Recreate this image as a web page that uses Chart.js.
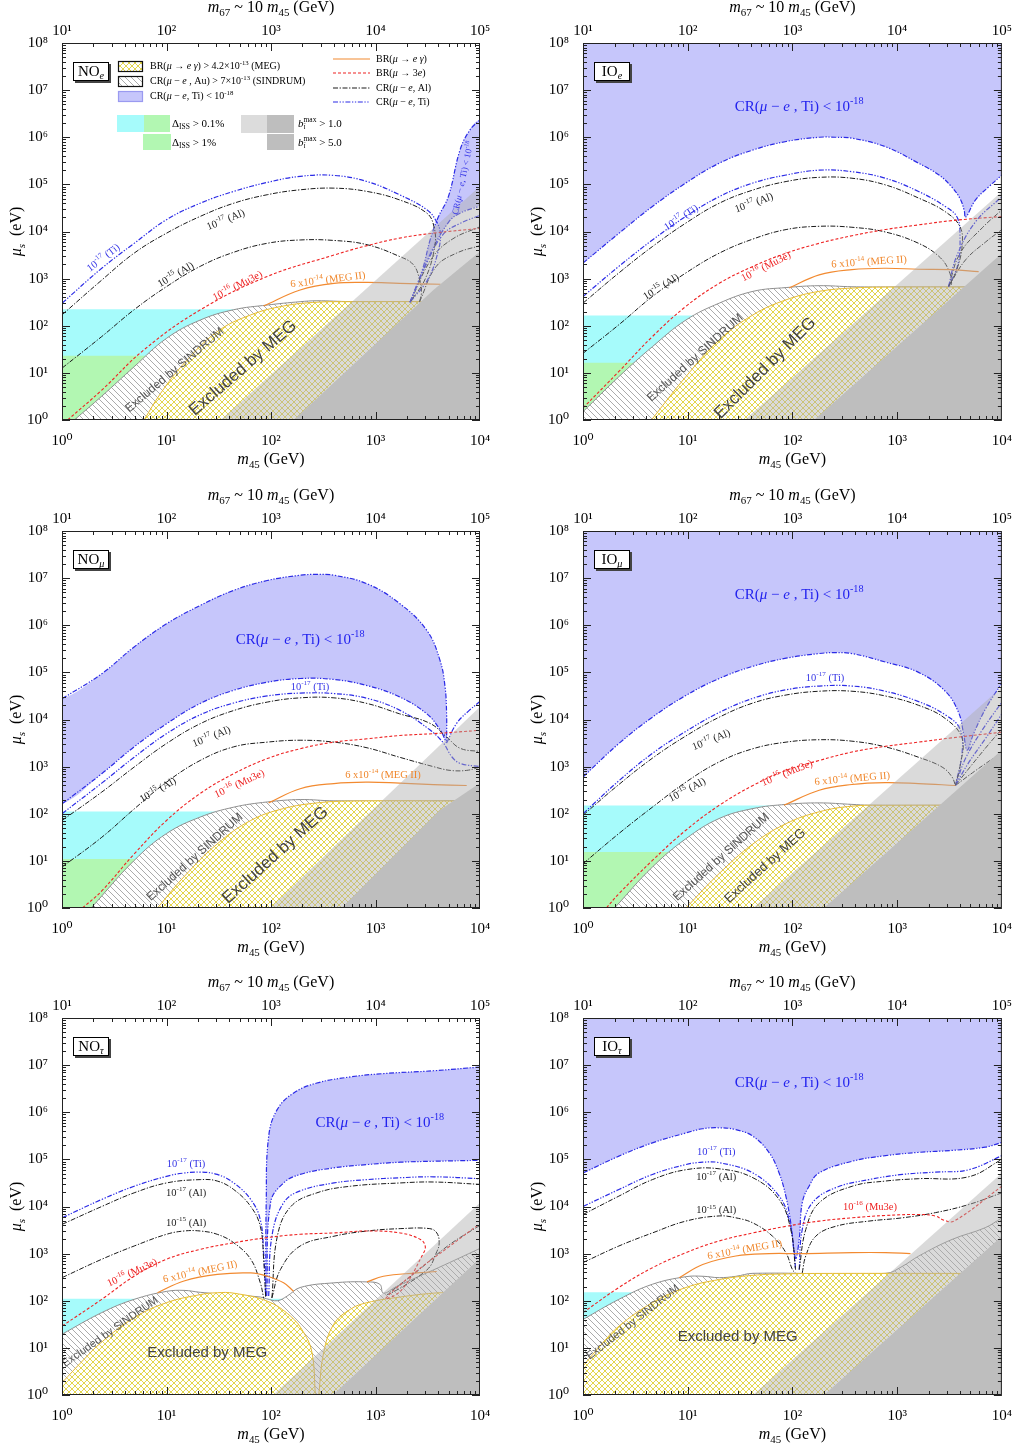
<!DOCTYPE html>
<html><head><meta charset="utf-8">
<script src="https://cdn.jsdelivr.net/npm/chart.js@4.4.1/dist/chart.umd.min.js"></script>
<style>
html,body{margin:0;padding:0;background:#fff;}
#wrap{position:relative;width:1016px;height:1450px;overflow:hidden;}
canvas{position:absolute;}
</style></head><body><div id="wrap">
<canvas id="c0" width="500" height="475" style="left:0;top:0;width:500px;height:475px"></canvas>
<canvas id="c1" width="495" height="475" style="left:521px;top:0;width:495px;height:475px"></canvas>
<canvas id="c2" width="500" height="475" style="left:0;top:488px;width:500px;height:475px"></canvas>
<canvas id="c3" width="495" height="475" style="left:521px;top:488px;width:495px;height:475px"></canvas>
<canvas id="c4" width="500" height="475" style="left:0;top:975px;width:500px;height:475px"></canvas>
<canvas id="c5" width="495" height="475" style="left:521px;top:975px;width:495px;height:475px"></canvas>
</div>
<script>
// ---------- tick values ----------
const xTicks=[1,10,100,1000,10000];
const x2Ticks=[10,100,1000,10000,100000];
const yTicks=[1,10,100,1e3,1e4,1e5,1e6,1e7,1e8];

// ---------- NO e ----------
const NOe_Ti17=[[1,300],[2.4,1660],[4.9,5600],[10,17800],[21,39800],[44,71000],[92,110000],[190,148000],[400,155000],[830,115000],[1700,60000],[3100,29000],[3850,16000],[4170,9100],[4000,4000],[3200,1000],[2140,316]];
const NOe_Al17=[[1,170],[2.4,930],[4.9,3470],[10,9200],[21,20900],[44,39800],[92,60300],[190,76700],[400,83200],[830,70800],[1700,46800],[3100,24500],[3630,12600],[3700,5000],[3000,1000],[2140,316]];
const NOe_Al15=[[1,12.6],[2.4,59],[4.9,219],[10,676],[21,1820],[44,3630],[92,5620],[190,6610],[400,6460],[830,5250],[1700,2950],[2290,2000],[2630,1000],[2750,500],[2630,316]];
const NOe_Mu3e=[[1.13,1],[2.4,4.3],[6.1,31],[21,217],[92,1110],[400,3160],[830,5010],[1700,7240],[3600,9230],[10000,11700]];
const NOe_MEGII=[[85,263],[190,575],[400,794],[830,832],[1700,794],[4200,759]];
const NOe_MEG=[[6.1,1],[8.8,3.7],[14.7,15.8],[30.6,75],[64,170],[132,263],[276,316],[574,324],[10000,324]];
const NOe_SINDRUM=[[1.31,1],[2.4,3.2],[4.9,13.5],[10,54],[21,132],[44,219],[92,275],[190,324],[275,339],[575,326],[10000,326]];
const NOe_Ti18_up=[[2140,316],[2820,1580],[3330,6610],[3980,20000],[4980,54800],[6440,537000],[8020,1430000],[10000,2340000]];
const NOe_Ti18_lo=[[2140,316],[3310,3160],[5010,15800],[6440,24500],[10000,34700]];
const NOe_Ti17_r=[[2140,316],[3200,2500],[4500,9000],[6500,15000],[10000,22000]];
const NOe_Al17_r=[[2140,316],[3500,2800],[5500,7000],[10000,12600]];
const NOe_Al15_r=[[2630,316],[3800,1800],[6000,3500],[10000,5000]];
const NOe_bmax1=[[33,1],[10000,91000]];
const NOe_bmax5=[[165,1],[3580,575],[10000,3760]];
const NOe_ISS=[224,23];

// ---------- IO e ----------
const IOe_Ti18=[[1,2140],[2.2,9120],[4.6,33900],[9.6,107000],[20,282000],[42,537000],[87,813000],[180,1000000],[257,1000000],[370,955000],[770,631000],[1600,282000],[2510,158000],[3310,89000],[3980,50000],[4370,28000],[4500,20000],[5600,46800],[7500,89100],[10000,158000]];
const IOe_Ti17=[[1,417],[2.2,1820],[4.6,6610],[9.6,20900],[20,55000],[42,107000],[87,158000],[180,200000],[370,186000],[770,135000],[1600,70800],[2880,33900],[3740,20000],[3980,7940],[3800,2000],[3090,676]];
const IOe_Al17=[[1,302],[2.2,1320],[4.6,4790],[9.6,15100],[20,39800],[42,75900],[87,115000],[180,141000],[370,135000],[770,97700],[1600,51300],[2880,26300],[3980,12600],[4170,5010],[3720,1580],[3090,676]];
const IOe_Al15=[[1,26],[2.2,105],[4.6,417],[9.6,1320],[20,3470],[42,6920],[87,11000],[180,12900],[370,12300],[770,9770],[1600,5620],[2510,2950],[3090,1550],[3310,794],[3160,676]];
const IOe_Mu3e=[[1,1.8],[2.2,10.7],[4.6,59],[9.6,257],[20,794],[42,1820],[87,3470],[180,5620],[370,8130],[770,11000],[1600,13800],[3300,17000],[10000,20900]];
const IOe_MEGII=[[93,631],[180,1200],[370,1550],[770,1660],[1600,1580],[3300,1550],[6000,1410]];
const IOe_MEG=[[4.5,1],[9.6,8.3],[20,50],[42,170],[87,355],[180,537],[370,631],[770,661],[10000,661]];
const IOe_SINDRUM=[[1,1.5],[2.2,8.3],[4.6,36],[9.6,132],[20,302],[42,537],[87,646],[180,708],[370,672],[770,665],[10000,665]];
const IOe_Ti17_r=[[3090,676],[3700,3000],[5600,16000],[10000,55000]];
const IOe_Al17_r=[[3090,676],[4000,3500],[6500,12000],[10000,28800]];
const IOe_Al15_r=[[3090,676],[4500,2500],[7000,6000],[10000,11000]];
const IOe_bmax1=[[35,1],[10000,70800]];
const IOe_bmax5=[[161,1],[10000,3470]];
const IOe_ISS=[165,16.5];

// ---------- NO mu ----------
const NOmu_Ti18_up=[[1,27500],[2.4,93300],[4.9,347000],[10,1070000],[21,2630000],[44,5500000],[92,8900000],[190,11500000],[275,12000000],[400,11500000],[830,7600000],[1700,2900000],[3100,776000],[4150,178000],[4630,49000],[4790,13200],[4790,3160]];
const NOmu_Ti18_lo=[[1,162],[2.4,708],[4.9,2630],[10,8130],[21,21900],[44,41700],[92,61700],[190,74100],[400,70800],[830,52500],[1700,30200],[3100,13200],[4150,6030],[4790,3160]];
const NOmu_Ti18_r=[[4790,3160],[5980,8300],[7940,15800],[10000,24000]];
const NOmu_Ti17=[[1,100],[2.4,447],[4.9,1580],[10,5010],[21,12600],[44,22400],[92,31600],[190,36300],[400,35500],[830,28200],[1700,15800],[3310,6030],[4470,3160],[5370,1620],[6460,1170],[10000,1000]];
const NOmu_Al17=[[1,72],[2.4,288],[4.9,977],[10,3090],[21,8130],[44,15500],[92,23400],[190,28800],[400,28800],[830,21900],[1700,13200],[3310,8320],[4790,4270],[6460,2450],[10000,2090]];
const NOmu_Al15=[[1,7.4],[2.4,31.6],[4.9,126],[10,468],[21,1350],[44,2630],[92,3310],[190,3630],[400,3310],[830,2510],[1700,1580],[3580,1000],[5180,832],[7460,832],[10000,977]];
const NOmu_Mu3e=[[1.57,1],[2.4,2.3],[4.9,14],[10,72],[21,269],[44,708],[92,1480],[190,2400],[400,3310],[830,3890],[1700,4570],[3600,5010],[10000,5890]];
const NOmu_MEGII=[[95,170],[190,339],[400,437],[830,468],[1700,447],[3580,417],[7460,398]];
const NOmu_MEG=[[8.2,1],[14.7,4.6],[30.6,22.9],[64,72],[132,129],[276,170],[575,186],[10000,186]];
const NOmu_SINDRUM=[[1.9,1],[4.9,10.2],[10,38],[21,85],[44,138],[92,178],[190,200],[400,188],[10000,188]];
const NOmu_bmax1=[[98,1],[10000,18600]];
const NOmu_bmax5=[[474,1],[4140,120],[10000,447]];
const NOmu_ISS=[112,11];

// ---------- IO mu ----------
const IOmu_Ti18=[[1,603],[2.2,3090],[4.6,11200],[9.6,32400],[20,74100],[42,135000],[87,200000],[180,251000],[257,263000],[370,251000],[770,166000],[1600,100000],[2880,39800],[3860,14100],[4310,5010],[4660,2240],[5370,5010],[7080,17800],[10000,58900]];
const IOmu_Ti17=[[1,100],[2.2,501],[4.6,1910],[9.6,5620],[20,14100],[42,28200],[87,42700],[180,51300],[370,51300],[770,39800],[1600,24000],[2880,12600],[3980,6310],[4170,2000],[3600,398]];
const IOmu_Al17=[[1,93],[2.2,417],[4.6,1510],[9.6,4470],[20,11200],[42,22400],[87,33100],[180,39800],[370,39800],[770,31600],[1600,20000],[2880,10500],[4170,3980],[3980,1000],[3600,398]];
const IOmu_Al15=[[1,8.7],[2.2,38],[4.6,138],[9.6,468],[20,1260],[42,2400],[87,3310],[180,3720],[370,3470],[770,2630],[1600,1580],[2690,977],[3340,603],[3600,398]];
const IOmu_Mu3e=[[1.67,1],[2.2,2],[4.6,10.2],[9.6,44.7],[20,151],[42,398],[87,832],[180,1350],[370,2040],[770,2690],[1600,3310],[3300,4070],[10000,5370]];
const IOmu_MEGII=[[83,151],[180,316],[370,417],[770,457],[1600,437],[3600,398]];
const IOmu_MEG=[[9.6,1],[20,5.4],[42,22.9],[87,61.7],[180,110],[370,145],[770,151],[10000,151]];
const IOmu_SINDRUM=[[2,1],[4.6,7.4],[9.6,29.5],[20,79.4],[42,129],[87,158],[180,170],[370,158],[540,152],[10000,152]];
const IOmu_Ti17_r=[[3600,398],[4500,1500],[6500,6000],[10000,23400]];
const IOmu_Ti17b_r=[[3600,398],[4800,1200],[7000,4000],[10000,13200]];
const IOmu_Al17_r=[[3600,398],[5000,1000],[7500,3000],[10000,6300]];
const IOmu_Al15_r=[[3600,398],[5500,800],[10000,2000]];
const IOmu_bmax1=[[42,1],[10000,49000]];
const IOmu_bmax5=[[200,1],[10000,2240]];
const IOmu_ISS=[150,15.4];

// ---------- NO tau ----------
const NOtau_Ti18_up=[[89,126],[90,12000],[95,309000],[115,1150000],[165,2570000],[275,4170000],[575,5620000],[1190,6610000],[3580,7590000],[10000,9120000]];
const NOtau_Ti18_lo=[[91,126],[99,12000],[132,31600],[190,47900],[400,66100],[830,77600],[1720,87100],[3580,91200],[10000,95500]];
const NOtau_Ti17_l=[[1,5750],[2.4,14100],[4.9,26900],[10,43700],[14.7,51300],[21,53700],[30.6,47900],[44,31600],[64,14100],[79,5250],[85,1050],[89,126]];
const NOtau_Ti17_r=[[95,126],[102,2340],[132,12000],[190,21400],[400,31600],[830,37200],[1700,40700],[3600,42700],[10000,38900]];
const NOtau_Al17_l=[[1,4170],[2.4,10000],[4.9,19500],[10,31600],[21,37200],[30.6,34700],[44,22900],[64,10000],[79,3800],[85,760],[89,115]];
const NOtau_Al17_r=[[102,115],[115,2340],[155,10000],[275,19500],[575,26900],[1720,31600],[3580,33100],[10000,29500]];
const NOtau_Al15_l=[[1,309],[2.4,759],[4.9,1450],[10,2570],[14.7,3020],[21,3020],[30.6,2570],[44,1700],[64,759],[79,240],[85,115]];
const NOtau_Al15_r=[[102,115],[123,457],[190,1450],[400,2340],[830,3020],[1720,3390],[3310,3390],[3860,2750],[4070,1700],[3860,1100],[3090,447],[1300,135],[2500,420],[5000,1500],[10000,3980]];
const NOtau_Mu3e=[[1,29],[2.4,107],[4.9,331],[10,759],[21,1230],[44,1700],[92,2190],[190,2570],[400,2750],[830,3020],[1720,2750],[2690,2000],[2990,1450],[2860,1000],[1780,170],[1250,112],[2510,437],[5010,1380],[10000,4370]];
const NOtau_MEGII_a=[[8.2,148],[14.7,263],[30.6,363],[64,389],[92,331],[132,240],[165,158]];
const NOtau_MEGII_b=[[830,251],[1190,331],[2480,389],[3850,417]];
const NOtau_MEG_a=[[1,1.82],[1.63,5.75],[2.36,12.9],[4.9,43.7],[10,91],[21,135],[30.6,148],[44,145],[92,98],[154,47],[206,21],[247,7.9],[266,1]];
const NOtau_MEG_b=[[286,1],[319,7.9],[398,31.6],[575,66],[828,91],[1720,120],[3580,145],[5180,148],[10000,148]];
const NOtau_SINDRUM=[[1,19.5],[2.4,56],[4.9,107],[10,158],[14.7,166],[21,151],[44,132],[79,120],[91,110],[115,100],[143,126],[190,191],[400,240],[830,251],[1100,224],[1190,145],[1580,200],[3980,501],[10000,1290]];
const NOtau_bmax1=[[105,1],[10000,12000]];
const NOtau_bmax5=[[390,1],[10000,800]];
const NOtau_ISS=[110];

// ---------- IO tau ----------
const IOtau_Ti18=[[1,51300],[2.2,117000],[4.6,224000],[9.6,363000],[13.9,447000],[20,468000],[28.8,427000],[42,309000],[60,138000],[74.6,51300],[86.5,16600],[96.4,4470],[107,794],[116,2000],[124,12000],[144,26900],[179,51300],[372,91200],[774,120000],[1610,141000],[3340,155000],[6930,182000],[10000,229000]];
const IOtau_Ti17_l=[[1,10000],[2.2,22900],[4.6,47900],[9.6,77600],[13.9,87100],[20,85100],[42,51300],[74.6,16600],[93,5250],[104,1050],[107,457]];
const IOtau_Ti17_r=[[116,457],[124,3240],[155,12000],[259,25100],[537,37200],[1120,47900],[2320,53700],[4820,60300],[10000,120000]];
const IOtau_Al17_l=[[1,6760],[2.2,16600],[4.6,37200],[9.6,60300],[20,63100],[42,40700],[74.6,14100],[96.4,3240],[107,457]];
const IOtau_Al17_r=[[116,457],[134,3240],[180,12000],[372,26900],[774,34700],[1610,38900],[4820,42700],[10000,100000]];
const IOtau_Al15_l=[[1,646],[2.2,1450],[4.6,2750],[9.6,4900],[20,6310],[28.8,5750],[42,4470],[64.6,2340],[86.5,1050],[100,457],[107,389]];
const IOtau_Al15_r=[[124,389],[134,891],[167,2340],[259,3800],[537,4900],[1120,5750],[2320,7410],[4820,11000],[10000,19500]];
const IOtau_Mu3e=[[1,56],[2.2,191],[4.6,501],[9.6,1050],[20,1860],[42,2750],[87,3800],[180,4900],[370,5750],[770,6460],[1600,6760],[2300,6310],[2800,5130],[3500,4900],[10000,26900]];
const IOtau_MEGII=[[8.3,309],[13.9,589],[28.8,891],[60,1000],[124,1000],[372,1050],[774,1050],[1340,1000]];
const IOtau_MEG=[[1,4.1],[1.55,12.9],[2.2,28.8],[4.6,91],[9.6,191],[20,282],[42,347],[87,372],[180,380],[10000,380]];
const IOtau_SINDRUM=[[1,40],[2.2,107],[4.6,224],[9.6,324],[13.9,331],[20,309],[28.8,330],[42,382],[780,382],[1120,537],[1610,891],[3340,2000],[6930,3550],[10000,5750]];
const IOtau_bmax1=[[42,1],[10000,51300]];
const IOtau_bmax5=[[200,1],[10000,2340]];
const IOtau_ISS=[152];

// ---------- styles ----------
const SERIF='"Liberation Serif","DejaVu Serif","Times New Roman",serif';
const SANS='"Liberation Sans","DejaVu Sans",Arial,sans-serif';
const C={blue:'#2b2be6',fillBlue:'#c6c6fb',black:'#1a1a1a',red:'#ee2222',orange:'#f28a30',meg:'#e8bc34',sind:'#8e8e8e',cyan:'#a6fbfb',green:'#b2f7b2',lgrey:'rgba(172,172,172,0.45)',dgrey:'#bebebe'};
const DASH={ti:[5,1.6,1.3,1.6,1.3,1.6],al:[5,1.6,1.3,1.6],red:[3,2]};
const NOTE={b:{color:'#3535e6',fam:SERIF,size:10.5},k:{color:'#222',fam:SERIF,size:10.5},r:{color:'#ee2222',fam:SERIF,size:10.5},o:{color:'#f0862a',fam:SERIF,size:10.5},s:{color:'#555',fam:SANS,size:12},m:{color:'#444',fam:SANS,size:17},B:{color:'#2222ee',fam:SERIF,size:15}};
const SUP='⁰¹²³⁴⁵⁶⁷⁸⁹';
const rev=a=>a.slice().reverse();
// closes a lobe (upper branch + lower branch) through points just outside the right edge
const lobeRight=(up,lo)=>[...up,[20000,up[up.length-1][1]],[20000,lo[lo.length-1][1]],...rev(lo)];

function L(data,kind,order){
  const st={ti:[C.blue,DASH.ti,1.2],al:[C.black,DASH.al,1],red:[C.red,DASH.red,1.1],or:[C.orange,[],1.2]}[kind];
  return {data:[...data],showLine:true,pointRadius:0,borderColor:st[0],borderDash:st[1],borderWidth:st[2],fill:false,tension:0.4,order:order||40};
}
function R(data,bg,fill,border,order,tension){
  return {data:[...data],showLine:true,pointRadius:0,backgroundColor:bg,fill:fill,borderColor:border||'rgba(0,0,0,0)',borderWidth:border?1:0,tension:tension===undefined?0.4:tension,order:order};
}
function band(top,color,order){return R([[1,top],[300,top]],color,'start',null,order,0);}

// ---------- rich text ----------
function parseRich(s){
  const runs=[];let i=0,it=false,buf='';
  const push=(t,mode)=>{if(t)runs.push({t,mode,it});};
  while(i<s.length){
    const c=s[i];
    if((c==='^'||c==='_')&&s[i+1]==='{'){
      push(buf,'n');buf='';
      const j=s.indexOf('}',i);const inner=s.slice(i+2,j);
      runs.push({t:inner.replace(/\*/g,''),mode:c==='^'?'sup':'sub',it:inner.indexOf('*')>=0||it});
      i=j+1;continue;
    }
    if(c==='*'){push(buf,'n');buf='';it=!it;i++;continue;}
    buf+=c;i++;
  }
  push(buf,'n');return runs;
}
function drawRich(ctx,s,x,y,o){
  const size=o.size||15,fam=o.family||SERIF;
  const runs=parseRich(s);
  const font=r=>(r.it?'italic ':'')+(r.mode==='n'?size:size*0.68).toFixed(1)+'px '+fam;
  let w=0,prev=null;
  for(const r of runs){ctx.font=font(r);r.w=ctx.measureText(r.t).width;
    if(r.mode==='sup'&&prev&&prev.mode==='sub'){r.x=prev.x;w=prev.x+Math.max(prev.w,r.w);}else{r.x=w;w+=r.w;}
    prev=r;}
  ctx.save();ctx.translate(x,y);ctx.rotate((o.rot||0)*Math.PI/180);
  const off=o.align==='left'?0:o.align==='right'?-w:-w/2;
  ctx.fillStyle=o.color||'#000';ctx.textBaseline='middle';ctx.textAlign='left';
  for(const r of runs){ctx.font=font(r);const dy=r.mode==='sup'?-size*0.36:r.mode==='sub'?size*0.3:0;ctx.fillText(r.t,off+r.x,dy);}
  ctx.restore();
}

function makePatterns(ctx){
  const h=document.createElement('canvas');h.width=h.height=6;let g=h.getContext('2d');
  g.fillStyle='#fff';g.fillRect(0,0,6,6);g.strokeStyle='#a2a2a2';g.lineWidth=0.9;
  g.beginPath();g.moveTo(-1,-1);g.lineTo(7,7);g.moveTo(-4,2);g.lineTo(2,8);g.moveTo(2,-4);g.lineTo(8,2);g.stroke();
  const c=document.createElement('canvas');c.width=c.height=6;g=c.getContext('2d');
  g.fillStyle='#fff';g.fillRect(0,0,6,6);g.strokeStyle='#e0d03a';g.lineWidth=0.9;
  g.beginPath();g.moveTo(-1,-1);g.lineTo(7,7);g.moveTo(-1,7);g.lineTo(7,-1);g.stroke();
  return {hatch:ctx.createPattern(h,'repeat'),cross:ctx.createPattern(c,'repeat')};
}

function drawLegend(ctx,a,pat){
  const X=a.left,Y=a.top;
  const sw=(x,y,w,h,fill,stroke)=>{ctx.fillStyle=fill;ctx.fillRect(X+x,Y+y,w,h);if(stroke){ctx.strokeStyle=stroke;ctx.lineWidth=1.2;ctx.strokeRect(X+x+0.5,Y+y+0.5,w,h);}};
  sw(56,18,24,10,pat.cross,'#111');sw(56,33,24,10,pat.hatch,'#111');sw(56,48,24,10,C.fillBlue,'#9a9af0');
  const t=(s,x,y,sz)=>drawRich(ctx,s,X+x,Y+y,{size:sz||10,align:'left'});
  t('BR(*μ* → *e γ*) > 4.2×10^{-13} (MEG)',88,23.5);
  t('CR(*μ* − *e* , Au) > 7×10^{-13} (SINDRUM)',88,38.5);
  t('CR(*μ* − *e*, Ti) < 10^{-18}',88,53.5);
  const ln=(y,col,dash,w)=>{ctx.strokeStyle=col;ctx.setLineDash(dash);ctx.lineWidth=w;ctx.beginPath();ctx.moveTo(X+271,Y+y);ctx.lineTo(X+308,Y+y);ctx.stroke();ctx.setLineDash([]);};
  ln(16,C.orange,[],1.2);ln(30,C.red,DASH.red,1.1);ln(45,C.black,DASH.al,1);ln(59,C.blue,DASH.ti,1.2);
  t('BR(*μ* → *e γ*)',314,16.5);t('BR(*μ* → 3*e*)',314,30.5);t('CR(*μ* − *e*, Al)',314,45.5);t('CR(*μ* − *e*, Ti)',314,59.5);
  sw(55,72,27,17,C.cyan);sw(82,72,26,17,C.green);t('Δ_{ISS} > 0.1%',110,81,11);
  sw(81,91,28,16,C.green);t('Δ_{ISS} > 1%',110,100,11);
  sw(179,72,26,18,'#dcdcdc');sw(205,72,27,18,C.dgrey);t('*b*_{*i*}^{max} > 1.0',236,81,11);
  sw(205,91,27,16,C.dgrey);t('*b*_{*i*}^{max} > 5.0',236,100,11);
}

function makeDeco(P,pat){
  return {id:'deco',
    afterDatasetsDraw(chart){
      const ctx=chart.ctx,xs=chart.scales.x,ys=chart.scales.y,a=chart.chartArea;
      ctx.save();ctx.beginPath();ctx.rect(a.left,a.top,a.right-a.left,a.bottom-a.top);ctx.clip();
      for(const n of P.notes){const st=NOTE[n[4]];
        drawRich(ctx,n[0],xs.getPixelForValue(n[1]),ys.getPixelForValue(n[2]),{size:n[5]||st.size,family:st.fam,color:st.color,rot:n[3]});}
      ctx.restore();
      const bx=a.left+11,by=a.top+19,bw=35,bh=18;
      ctx.fillStyle='#444';ctx.fillRect(bx+2,by+2,bw+1,bh+1);
      ctx.fillStyle='#fff';ctx.fillRect(bx,by,bw,bh);ctx.strokeStyle='#000';ctx.lineWidth=1;ctx.strokeRect(bx+0.5,by+0.5,bw,bh);
      drawRich(ctx,P.tag,bx+bw/2+0.5,by+bh/2+1,{size:15});
      if(P.legend)drawLegend(ctx,a,pat);
    },
    afterDraw(chart){
      const ctx=chart.ctx,xs=chart.scales.x,ys=chart.scales.y,a=chart.chartArea;
      ctx.save();ctx.strokeStyle='#222';ctx.lineWidth=1;
      ctx.strokeRect(a.left+0.5,a.top+0.5,a.right-a.left-1,a.bottom-a.top-1);
      ctx.beginPath();
      for(let d=0;d<4;d++)for(let k=1;k<=9;k++){const px=Math.round(xs.getPixelForValue(k*Math.pow(10,d)))+0.5;const len=k===1?8:4;
        ctx.moveTo(px,a.bottom);ctx.lineTo(px,a.bottom-len);ctx.moveTo(px,a.top);ctx.lineTo(px,a.top+len);}
      for(let d=0;d<8;d++)for(let k=1;k<=9;k++){const py=Math.round(ys.getPixelForValue(k*Math.pow(10,d)))+0.5;const len=k===1?8:4;
        ctx.moveTo(a.left,py);ctx.lineTo(a.left+len,py);ctx.moveTo(a.right,py);ctx.lineTo(a.right-len,py);}
      ctx.stroke();ctx.restore();
      const cx=(a.left+a.right)/2,cy=(a.top+a.bottom)/2;
      drawRich(ctx,'*m*_{45} (GeV)',cx,a.bottom+40,{size:16});
      drawRich(ctx,'*m*_{67} ~ 10 *m*_{45} (GeV)',cx,a.top-35,{size:16});
      drawRich(ctx,'*μ*_{*s*}  (eV)',17,cy,{size:16,rot:-90});
    }
  };
}

const lab=v=>'10'+SUP[Math.round(Math.log10(v))];
function axis(pos,min,max,ticks,fit,pad){
  return {type:'logarithmic',position:pos,min,max,grid:{display:false},border:{display:false},
    afterBuildTicks:s=>{s.ticks=ticks.map(v=>({value:v}));},afterFit:fit,
    ticks:{callback:lab,font:{family:SERIF,size:15},color:'#000',padding:pad,maxRotation:0,autoSkip:false}};
}

function mkChart(P){
  const cv=document.getElementById(P.id);const ctx=cv.getContext('2d');const pat=makePatterns(ctx);
  const x2=axis('top',10,1e5,x2Ticks,s=>{s.height=43;},-5);x2.axis='x';
  new Chart(ctx,{type:'scatter',data:{datasets:P.build(pat)},
    options:{responsive:false,animation:false,devicePixelRatio:1,events:[],
      layout:{padding:{left:0,right:P.padR,top:0,bottom:0}},
      plugins:{legend:{display:false},tooltip:{enabled:false}},
      scales:{x:axis('bottom',1,1e4,xTicks,s=>{s.height=55;},4),x2:x2,y:axis('left',1,1e8,yTicks,s=>{s.width=62;},6)}},
    plugins:[makeDeco(P,pat)]});
}

const CRT='CR(*μ* − *e* , Ti) < 10^{-18}';
const panels=[
 {id:'c0',tag:'NO_{*e*}',padR:20,legend:true,
  notes:[['10^{-17} (Ti)',2.5,2750,-38,'b'],['10^{-17} (Al)',37,17500,-22,'k'],['10^{-15} (Al)',12.3,1200,-30,'k'],['10^{-16} (Mu3e)',48,700,-27,'r'],['6 x10^{-14} (MEG II)',350,935,-7,'o'],['Excluded by SINDRUM',12,11.5,-40,'s'],['Excluded by MEG',54,12.6,-41,'m'],['CR(*μ* − *e*, Ti) < 10^{-18}',6900,137000,-78,'b',9]],
  build:p=>[band(NOe_ISS[0],C.cyan,100),band(NOe_ISS[1],C.green,99),
   R(lobeRight(NOe_Ti18_up,NOe_Ti18_lo),C.fillBlue,'shape',null,90),
   R(NOe_SINDRUM,p.hatch,'start',C.sind,80),R(NOe_MEG,p.cross,'start',C.meg,70),
   L(NOe_Mu3e,'red'),L(NOe_MEGII,'or'),L(NOe_Al15,'al'),L(NOe_Al17,'al'),L(NOe_Ti17,'ti'),
   L(NOe_Ti18_up,'ti'),L(NOe_Ti18_lo,'ti'),L(NOe_Ti17_r,'ti'),L(NOe_Al17_r,'al'),L(NOe_Al15_r,'al'),
   R(NOe_bmax1,C.lgrey,'start',null,20,0),R(NOe_bmax5,C.dgrey,'start',null,10,0)]},
 {id:'c1',tag:'IO_{*e*}',padR:13,
  notes:[[CRT,116,4.37e6,0,'B'],['10^{-17} (Ti)',8.7,19500,-33,'b'],['10^{-17} (Al)',43,40000,-20,'k'],['10^{-15} (Al)',5.6,660,-32,'k'],['10^{-16} (Mu3e)',56,1780,-27,'r'],['6 x10^{-14} (MEG II)',540,2240,-4,'o'],['Excluded by SINDRUM',11.8,20.8,-42,'s'],['Excluded by MEG',55,12.6,-45,'m']],
  build:p=>[band(IOe_ISS[0],C.cyan,100),band(IOe_ISS[1],C.green,99),
   R(IOe_Ti18,C.fillBlue,'end',null,90),
   R(IOe_SINDRUM,p.hatch,'start',C.sind,80),R(IOe_MEG,p.cross,'start',C.meg,70),
   L(IOe_Mu3e,'red'),L(IOe_MEGII,'or'),L(IOe_Al15,'al'),L(IOe_Al17,'al'),L(IOe_Ti17,'ti'),L(IOe_Ti18,'ti'),
   L(IOe_Ti17_r,'ti'),L(IOe_Al17_r,'al'),L(IOe_Al15_r,'al'),
   R(IOe_bmax1,C.lgrey,'start',null,20,0),R(IOe_bmax5,C.dgrey,'start',null,10,0)]},
 {id:'c2',tag:'NO_{*μ*}',padR:20,
  notes:[[CRT,190,490000,0,'B'],['10^{-17} (Ti)',236,49000,0,'b'],['10^{-17} (Al)',27,4270,-22,'k'],['10^{-15} (Al)',8.3,316,-30,'k'],['10^{-16} (Mu3e)',50,427,-25,'r'],['6 x10^{-14} (MEG II)',1180,660,0,'o'],['Excluded by SINDRUM',18.7,12,-42,'s'],['Excluded by MEG',110,13.2,-42,'m']],
  build:p=>[band(NOmu_ISS[0],C.cyan,100),band(NOmu_ISS[1],C.green,99),
   R([[0.5,NOmu_Ti18_up[0][1]],...NOmu_Ti18_up,...rev(NOmu_Ti18_lo),[0.5,NOmu_Ti18_lo[0][1]]],C.fillBlue,'shape',null,90),
   R(NOmu_SINDRUM,p.hatch,'start',C.sind,80),R(NOmu_MEG,p.cross,'start',C.meg,70),
   L(NOmu_Mu3e,'red'),L(NOmu_MEGII,'or'),L(NOmu_Al15,'al'),L(NOmu_Al17,'al'),L(NOmu_Ti17,'ti'),
   L(NOmu_Ti18_up,'ti'),L(NOmu_Ti18_lo,'ti'),L(NOmu_Ti18_r,'ti'),
   R(NOmu_bmax1,C.lgrey,'start',null,20,0),R(NOmu_bmax5,C.dgrey,'start',null,10,0)]},
 {id:'c3',tag:'IO_{*μ*}',padR:13,
  notes:[[CRT,116,4.37e6,0,'B'],['10^{-17} (Ti)',205,76000,0,'b'],['10^{-17} (Al)',16.8,3630,-22,'k'],['10^{-15} (Al)',9.9,316,-28,'k'],['10^{-16} (Mu3e)',89,725,-22,'r'],['6 x10^{-14} (MEG II)',372,550,-5,'o'],['Excluded by SINDRUM',21,12,-42,'s'],['Excluded by MEG',55,7.8,-42,'m',13]],
  build:p=>[band(IOmu_ISS[0],C.cyan,100),band(IOmu_ISS[1],C.green,99),
   R(IOmu_Ti18,C.fillBlue,'end',null,90),
   R(IOmu_SINDRUM,p.hatch,'start',C.sind,80),R(IOmu_MEG,p.cross,'start',C.meg,70),
   L(IOmu_Mu3e,'red'),L(IOmu_MEGII,'or'),L(IOmu_Al15,'al'),L(IOmu_Al17,'al'),L(IOmu_Ti17,'ti'),L(IOmu_Ti18,'ti'),
   L(IOmu_Ti17_r,'ti'),L(IOmu_Ti17b_r,'ti'),L(IOmu_Al17_r,'al'),L(IOmu_Al15_r,'al'),
   R(IOmu_bmax1,C.lgrey,'start',null,20,0),R(IOmu_bmax5,C.dgrey,'start',null,10,0)]},
 {id:'c4',tag:'NO_{*τ*}',padR:20,
  notes:[[CRT,1100,589000,0,'B'],['10^{-17} (Ti)',15.4,79000,0,'b'],['10^{-17} (Al)',15.4,19500,0,'k'],['10^{-15} (Al)',15.4,4470,0,'k'],['10^{-16} (Mu3e)',4.7,389,-25,'r'],['6 x10^{-14} (MEG II)',21,407,-12,'o'],['Excluded by SINDRUM',2.9,21.8,-35,'s',11],['Excluded by MEG',24.5,7.8,0,'m',15]],
  build:p=>[band(NOtau_ISS[0],C.cyan,100),
   R(lobeRight(NOtau_Ti18_up,NOtau_Ti18_lo),C.fillBlue,'shape',null,90),
   R(NOtau_SINDRUM,p.hatch,'start',C.sind,80),R(NOtau_MEG_a,p.cross,'start',C.meg,70),R(NOtau_MEG_b,p.cross,'start',C.meg,70),
   L(NOtau_Mu3e,'red'),L(NOtau_MEGII_a,'or'),L(NOtau_MEGII_b,'or'),
   L(NOtau_Al15_l,'al'),L(NOtau_Al15_r,'al'),L(NOtau_Al17_l,'al'),L(NOtau_Al17_r,'al'),
   L(NOtau_Ti17_l,'ti'),L(NOtau_Ti17_r,'ti'),L(NOtau_Ti18_up,'ti'),L(NOtau_Ti18_lo,'ti'),
   R(NOtau_bmax1,C.lgrey,'start',null,20,0),R(NOtau_bmax5,C.dgrey,'start',null,10,0)]},
 {id:'c5',tag:'IO_{*τ*}',padR:13,
  notes:[[CRT,116,4.17e6,0,'B'],['10^{-17} (Ti)',18.7,145000,0,'b'],['10^{-17} (Al)',18.7,42700,0,'k'],['10^{-15} (Al)',18.7,8130,0,'k'],['10^{-16} (Mu3e)',550,9800,0,'r'],['6 x10^{-14} (MEG II)',35,1200,-10,'o'],['Excluded by SINDRUM',3.0,35,-38,'s',11],['Excluded by MEG',30,17,0,'m',15]],
  build:p=>[band(IOtau_ISS[0],C.cyan,100),
   R(IOtau_Ti18,C.fillBlue,'end',null,90),
   R(IOtau_SINDRUM,p.hatch,'start',C.sind,80),R(IOtau_MEG,p.cross,'start',C.meg,70),
   L(IOtau_Mu3e,'red'),L(IOtau_MEGII,'or'),
   L(IOtau_Al15_l,'al'),L(IOtau_Al15_r,'al'),L(IOtau_Al17_l,'al'),L(IOtau_Al17_r,'al'),
   L(IOtau_Ti17_l,'ti'),L(IOtau_Ti17_r,'ti'),L(IOtau_Ti18,'ti'),
   R(IOtau_bmax1,C.lgrey,'start',null,20,0),R(IOtau_bmax5,C.dgrey,'start',null,10,0)]}
];
panels.forEach(mkChart);
</script>
</body></html>
